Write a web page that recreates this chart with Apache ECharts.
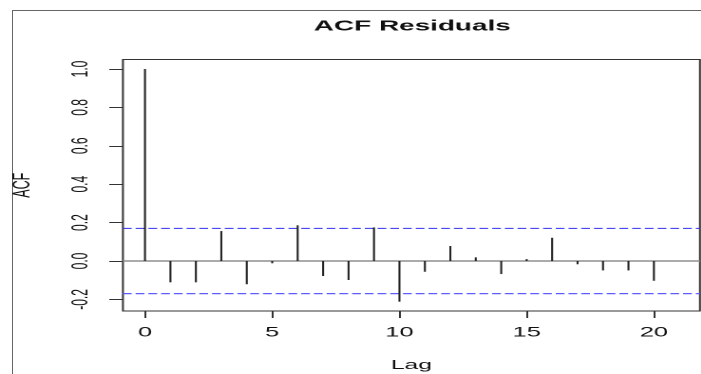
<!DOCTYPE html>
<html>
<head>
<meta charset="utf-8">
<script src="https://cdn.jsdelivr.net/npm/echarts@6/dist/echarts.min.js"></script>
<style>
  html, body { margin: 0; padding: 0; background: #fff; overflow: hidden; }
  #page { position: relative; width: 701px; height: 374px; overflow: hidden; background: #fff; }
  #frame { position: absolute; left: 12px; top: 10px; width: 900px; height: 600px;
           border-left: 1px solid #666; border-top: 1px solid #666; }
  /* the plot is laid out narrow and widened horizontally */
  #chart { position: absolute; left: 0; top: 0; width: 369px; height: 374px;
           transform: scaleX(1.9); transform-origin: 0 0; }
</style>
</head>
<body>
<div id="page">
  <div id="frame"></div>
  <div id="chart"></div>
</div>
<script>
// Autocorrelation of the model residuals
const lags = [0, 1, 2, 3, 4, 5, 6, 7, 8, 9, 10, 11, 12, 13, 14, 15, 16, 17, 18, 19, 20];
const acfValues = [1.0, -0.111, -0.111, 0.156, -0.121, -0.012, 0.186, -0.078, -0.099, 0.175,
                   -0.212, -0.056, 0.078, 0.019, -0.068, 0.010, 0.121, -0.017, -0.049, -0.049, -0.103];
const ciBound = 0.17;              // approximate 95% band
const refLevels = [0, ciBound, -ciBound];
const xTickValues = [0, 5, 10, 15, 20];
const yTickValues = [-0.2, 0, 0.2, 0.4, 0.6, 0.8, 1.0];

const FONT = '"Liberation Sans", Arial, Helvetica, sans-serif';
// zero line solid grey, band limits dashed blue
const refStyles = [
  { stroke: '#8f8f8f', lineWidth: 1.4 },
  { stroke: '#2f2ff0', lineWidth: 1, lineDash: [4.6, 2.1] },
  { stroke: '#5c5cff', lineWidth: 1.2, lineDash: [4.6, 2.1] }
];

const chart = echarts.init(document.getElementById('chart'), null, { devicePixelRatio: 2 });

const spikeData = lags.map((l, i) => [l, acfValues[i]]);

chart.setOption({
  animation: false,
  title: {
    text: 'ACF Residuals',
    left: 212,
    top: 14,
    textAlign: 'center',
    textStyle: { fontFamily: FONT, fontSize: 14.7, fontWeight: 'bold', color: '#111' }
  },
  grid: {
    left: 64.7, right: 0.6, top: 59.5, bottom: 63,
    outerBoundsMode: 'none',
    containLabel: false,
    show: true, borderColor: '#333', borderWidth: 1, backgroundColor: 'transparent'
  },
  xAxis: {
    type: 'value',
    min: -0.866, max: 21.81,
    name: 'Lag',
    nameLocation: 'middle',
    nameGap: 48,
    nameTextStyle: { fontFamily: FONT, fontSize: 13, color: '#111' },
    axisLine: { show: false, onZero: false },
    splitLine: { show: false },
    axisTick: { show: true, length: 7, lineStyle: { color: '#333', width: 1 }, customValues: xTickValues },
    axisLabel: { fontFamily: FONT, fontSize: 13.4, color: '#111', margin: 15.5, customValues: xTickValues,
                 formatter: v => String(v) }
  },
  yAxis: {
    type: 'value',
    min: -0.2604, max: 1.0495,
    name: 'ACF',
    nameLocation: 'middle',
    nameGap: 46.3,
    nameRotate: 90,
    nameTextStyle: { fontFamily: FONT, fontSize: 12.5, color: '#111' },
    axisLine: { show: false, onZero: false },
    splitLine: { show: false },
    axisTick: { show: true, length: 7.2, lineStyle: { color: '#333', width: 1 }, customValues: yTickValues },
    axisLabel: { fontFamily: FONT, fontSize: 12, color: '#111', margin: 16, rotate: 90,
                 customValues: yTickValues, formatter: v => v.toFixed(1) }
  },
  series: [
    {
      // horizontal reference lines across the whole plot
      type: 'custom',
      data: refLevels.map(v => [v]),
      encode: { y: 0 },
      silent: true,
      z: 2,
      renderItem: function (params, api) {
        const cs = params.coordSys;
        const y = api.coord([0, api.value(0)])[1];
        return {
          type: 'line',
          shape: { x1: cs.x, y1: y, x2: cs.x + cs.width, y2: y },
          style: refStyles[params.dataIndex]
        };
      }
    },
    {
      // one vertical spike per lag
      type: 'custom',
      data: spikeData,
      z: 5,
      renderItem: function (params, api) {
        const lag = api.value(0);
        const r = api.value(1);
        const p0 = api.coord([lag, 0]);
        const p1 = api.coord([lag, r]);
        return {
          type: 'line',
          shape: { x1: p0[0], y1: p0[1], x2: p1[0], y2: p1[1] },
          style: { stroke: '#222', lineWidth: 1.05 }
        };
      }
    }
  ]
});
</script>
</body>
</html>
